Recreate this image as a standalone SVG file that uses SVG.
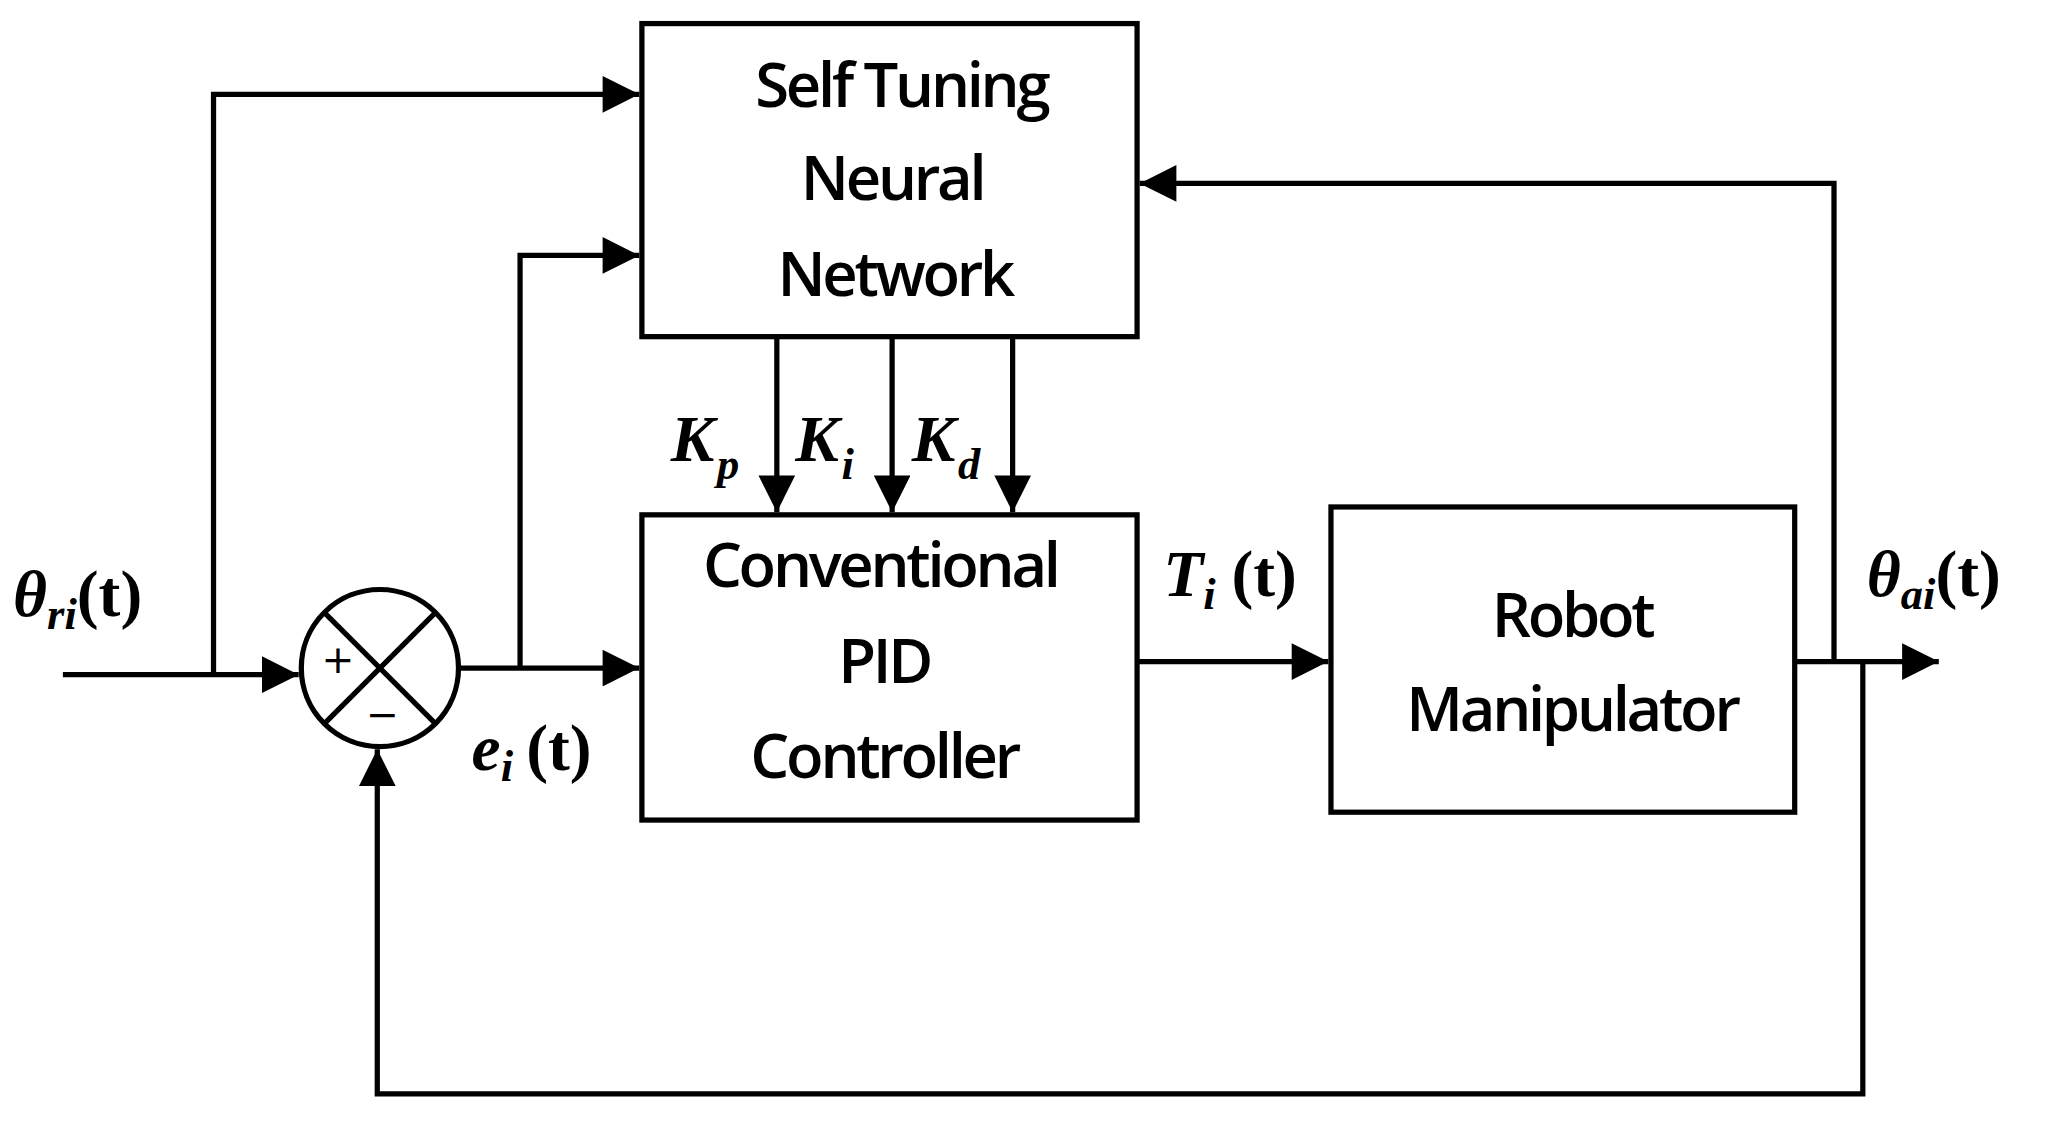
<svg xmlns="http://www.w3.org/2000/svg" width="2054" height="1121" viewBox="0 0 2054 1121">
<style>
.b{fill:#fff;stroke:#000;stroke-width:4}
.c{fill:none;stroke:#000;stroke-width:4}
.t{font-family:"Open Sans","DejaVu Sans",sans-serif;font-size:47px;font-weight:600;text-anchor:middle;letter-spacing:-2.5px}
.m{font-family:"Liberation Serif",serif;font-size:50px;font-style:italic;font-weight:bold}
.s{font-size:34px}
.u{font-family:"Liberation Serif",serif;font-style:normal;font-weight:bold}
</style>
<defs>
<marker id="h" viewBox="0 0 10 10" refX="10" refY="5" markerWidth="9" markerHeight="7" orient="auto"><path d="M0,0L10,5L0,10z"/></marker></defs>
<rect width="2054" height="1121" fill="#fff"/>
<g transform="scale(1.31)">
<g id="connectors" class="c">
<path d="M48,515H228" marker-end="url(#h)"/>
<path d="M163,515V72H488" marker-end="url(#h)"/>
<path d="M350,510H488" marker-end="url(#h)"/>
<path d="M397,510V195H488" marker-end="url(#h)"/>
<path d="M593,257V391" marker-end="url(#h)"/>
<path d="M681,257V391" marker-end="url(#h)"/>
<path d="M773,257V391" marker-end="url(#h)"/>
<path d="M868,505H1014" marker-end="url(#h)"/>
<path d="M1370,505H1480" marker-end="url(#h)"/>
<path d="M1400,505V140H870" marker-end="url(#h)"/>
<path d="M1422,505V835H288V572" marker-end="url(#h)"/>
</g>
<g id="sum"><circle cx="290" cy="510" r="60" class="b"/>
<path class="c" d="M248,468L332,552M332,468L248,552"/>
<text x="258" y="514" font-family="DejaVu Sans" font-size="30" text-anchor="middle">+</text>
<text x="292" y="556" font-family="DejaVu Sans" font-size="30" text-anchor="middle">−</text></g>
<g id="nn"><rect x="490" y="18" width="378" height="239" class="b"/>
<text class="t" x="688" y="82">Self Tuning</text><text class="t" x="681" y="153">Neural</text><text class="t" x="683" y="226">Network</text></g>
<g id="pid"><rect x="490" y="393" width="378" height="233" class="b"/>
<text class="t" x="672" y="448">Conventional</text><text class="t" x="675" y="521">PID</text><text class="t" x="675" y="594">Controller</text></g>
<g id="robot"><rect x="1016" y="387" width="354" height="233" class="b"/>
<text class="t" x="1200" y="486">Robot</text><text class="t" x="1200" y="558">Manipulator</text></g>
<g id="labels">
<text class="m" x="10" y="470">θ<tspan class="s" dy="10">ri</tspan><tspan class="u" dy="-10">(t)</tspan></text>
<text class="m" x="360" y="588">e<tspan class="s" dy="8">i</tspan><tspan class="u" dx="10" dy="-8">(t)</tspan></text>
<text class="m" x="888" y="455">T<tspan class="s" dy="10">i</tspan><tspan class="u" dx="12" dy="-10">(t)</tspan></text>
<text class="m" x="1425" y="455">θ<tspan class="s" dy="10">ai</tspan><tspan class="u" dy="-10">(t)</tspan></text>
<text class="m" x="512" y="352">K<tspan class="s" dx="2" dy="14">p</tspan></text>
<text class="m" x="607" y="352">K<tspan class="s" dx="2" dy="14">i</tspan></text>
<text class="m" x="696" y="352">K<tspan class="s" dx="2" dy="14">d</tspan></text>
</g>
</g>
</svg>
